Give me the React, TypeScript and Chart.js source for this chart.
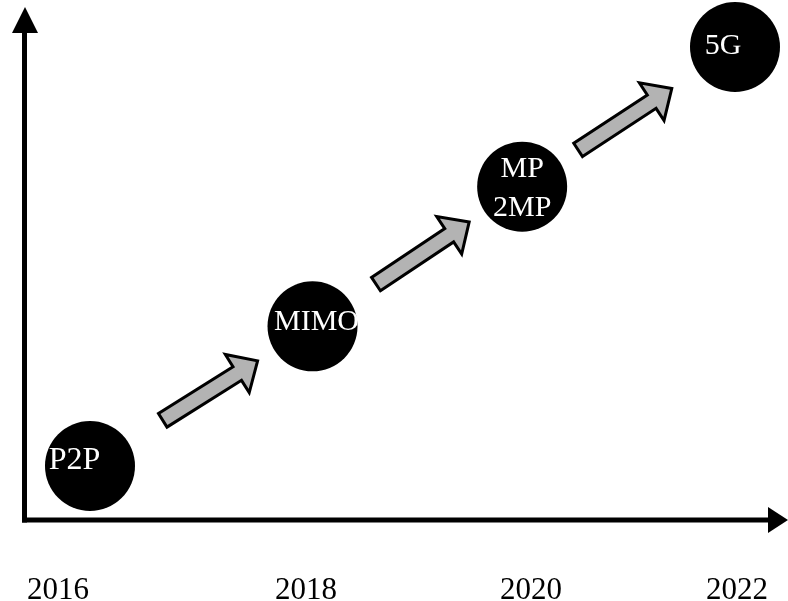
import React, { useEffect, useRef } from "react";
import { Chart, registerables } from "chart.js";

Chart.register(...registerables);

// ---- data ----
const stageLabels = ["P2P", "MIMO", "MP\n2MP", "5G"];
const stageYears = [2016, 2018.07, 2020.02, 2022];
const stageLevels = [1, 2, 3, 4];
const tickYears = [2016, 2018, 2020, 2022];
const tickLabels = ["2016", "2018", "2020", "2022"];

// ---- layout / style ----
const W = 788;
const H = 601;
const FONT = '"Liberation Serif", "Times New Roman", serif';
const labelNudge: [number, number][] = [[-15.5, -8], [4, -6], [0, 0], [-12, -3]];
const labelSize = [32, 30, 30, 30];
const tickNudge = [-32, 1, 11, 2];
const arrowCenterT = [0.54, 0.525, 0.483];
const AXIS_X = 24.5;
const AXIS_Y = 520;

function drawArrow(ctx: CanvasRenderingContext2D, x0: number, y0: number, x1: number, y1: number, tc: number) {
  const dx = x1 - x0;
  const dy = y1 - y0;
  const len = Math.hypot(dx, dy);
  const ux = dx / len, uy = dy / len;
  const nx = -uy, ny = ux;
  const L = 112;
  const cx = x0 + dx * tc, cy = y0 + dy * tc;
  const tx = cx - ux * L / 2, ty = cy - uy * L / 2;
  const px = cx + ux * L / 2, py = cy + uy * L / 2;
  const headLen = 24;
  const bx = px - ux * headLen, by = py - uy * headLen;
  const hw = 8, HW = 22.5;
  ctx.beginPath();
  ctx.moveTo(tx + nx * hw, ty + ny * hw);
  ctx.lineTo(bx + nx * hw, by + ny * hw);
  ctx.lineTo(bx + nx * HW, by + ny * HW);
  ctx.lineTo(px, py);
  ctx.lineTo(bx - nx * HW, by - ny * HW);
  ctx.lineTo(bx - nx * hw, by - ny * hw);
  ctx.lineTo(tx - nx * hw, ty - ny * hw);
  ctx.closePath();
  ctx.fillStyle = "#b3b3b3";
  ctx.fill();
  ctx.lineWidth = 3;
  ctx.lineJoin = "miter";
  ctx.strokeStyle = "#000";
  ctx.stroke();
}

const diagramPlugin = {
  id: "diagram",
  beforeDatasetsDraw(chart: any) {
    const ctx: CanvasRenderingContext2D = chart.ctx;
    const xs = chart.scales.x;
    const ys = chart.scales.y;
    ctx.save();
    // axes
    ctx.fillStyle = "#000";
    ctx.strokeStyle = "#000";
    ctx.lineWidth = 5;
    ctx.beginPath();
    ctx.moveTo(AXIS_X, AXIS_Y + 2.5);
    ctx.lineTo(AXIS_X, 30);
    ctx.stroke();
    ctx.beginPath();
    ctx.moveTo(12, 33);
    ctx.lineTo(38, 33);
    ctx.lineTo(25, 7);
    ctx.closePath();
    ctx.fill();
    ctx.beginPath();
    ctx.moveTo(AXIS_X - 2.5, AXIS_Y);
    ctx.lineTo(772, AXIS_Y);
    ctx.stroke();
    ctx.beginPath();
    ctx.moveTo(768, 507);
    ctx.lineTo(768, 533);
    ctx.lineTo(788, AXIS_Y);
    ctx.closePath();
    ctx.fill();
    // gray arrows between stages
    for (let i = 0; i < stageYears.length - 1; i++) {
      drawArrow(
        ctx,
        xs.getPixelForValue(stageYears[i]),
        ys.getPixelForValue(stageLevels[i]),
        xs.getPixelForValue(stageYears[i + 1]),
        ys.getPixelForValue(stageLevels[i + 1]),
        arrowCenterT[i]
      );
    }
    // year labels
    ctx.fillStyle = "#000";
    ctx.font = `31px ${FONT}`;
    ctx.textAlign = "center";
    ctx.textBaseline = "alphabetic";
    tickYears.forEach((yr, i) => {
      ctx.fillText(tickLabels[i], xs.getPixelForValue(yr) + tickNudge[i], 599);
    });
    ctx.restore();
  },
  afterDatasetsDraw(chart: any) {
    const ctx: CanvasRenderingContext2D = chart.ctx;
    const xs = chart.scales.x;
    const ys = chart.scales.y;
    ctx.save();
    ctx.fillStyle = "#fff";
    ctx.textAlign = "center";
    ctx.textBaseline = "alphabetic";
    stageLabels.forEach((lab, i) => {
      ctx.font = `${labelSize[i]}px ${FONT}`;
      const cx = xs.getPixelForValue(stageYears[i]) + labelNudge[i][0];
      const cy = ys.getPixelForValue(stageLevels[i]) + labelNudge[i][1];
      const lines = lab.split("\n");
      const lh = 39;
      lines.forEach((ln, j) => {
        const off = (j - (lines.length - 1) / 2) * lh;
        ctx.fillText(ln, cx, cy + off + labelSize[i] / 3);
      });
    });
    ctx.restore();
  },
};

export default function App() {
  const ref = useRef<HTMLCanvasElement | null>(null);
  useEffect(() => {
    if (!ref.current) return;
    const chart = new Chart(ref.current, {
      type: "scatter",
      data: {
        datasets: [
          {
            data: stageYears.map((x, i) => ({ x, y: stageLevels[i] })),
            pointRadius: 45,
            pointHoverRadius: 45,
            pointBackgroundColor: "#000",
            pointBorderWidth: 0,
            borderWidth: 0,
            clip: false,
          } as any,
        ],
      },
      options: {
        animation: false,
        responsive: false,
        events: [],
        layout: { padding: 0, autoPadding: false },
        plugins: { legend: { display: false }, tooltip: { enabled: false } },
        scales: {
          x: { type: "linear", display: false, min: 2015.1628, max: 2022.493 },
          y: { type: "linear", display: false, min: 0.0334, max: 4.3365 },
        },
      },
      plugins: [diagramPlugin],
    });
    return () => chart.destroy();
  }, []);
  return (
    <div style={{ position: "absolute", left: 0, top: 0, width: W, height: H, background: "#fff" }}>
      <canvas ref={ref} width={W} height={H} style={{ display: "block", width: W, height: H }} />
    </div>
  );
}
